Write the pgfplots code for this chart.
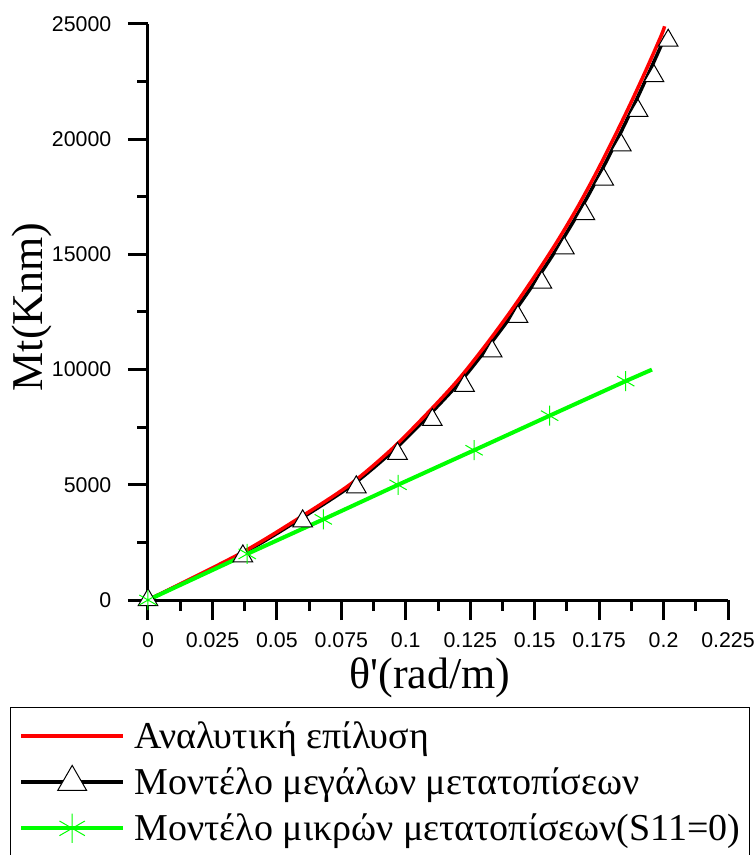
\documentclass[border=0pt]{standalone}
\usepackage{fontspec}
\setmainfont{Liberation Serif}
\newfontfamily\arialfont{Liberation Sans}
\usepackage{pgfplots}
\pgfplotsset{compat=1.18}
\definecolor{rred}{RGB}{255,0,0}
\definecolor{ggreen}{RGB}{0,255,0}

\begin{document}
\begin{tikzpicture}
\useasboundingbox (-111pt,-191.25pt) rectangle (455.25pt,450pt);
\begin{axis}[
  at={(0pt,0pt)}, anchor=south west,
  width=435pt, height=432pt, scale only axis,
  xmin=0, xmax=0.225, ymin=0, ymax=25000,
  axis x line=bottom, axis y line=left,
  axis line style={-, line width=2.25pt, black},
  every tick/.style={black, line width=2.25pt},
  tick align=outside,
  major tick length=15pt, minor tick length=8pt,
  xtick={0,0.025,0.05,0.075,0.1,0.125,0.15,0.175,0.2,0.225},
  ytick={0,5000,10000,15000,20000,25000},
  scaled y ticks=false, scaled x ticks=false,
  minor x tick num=1, minor y tick num=1,
  tick label style={font=\arialfont\fontsize{16}{19}\selectfont},
  /pgf/number format/assume math mode=true,
  /pgf/number format/1000 sep={},
  xticklabel style={/pgf/number format/fixed, /pgf/number format/precision=3, yshift=-6pt},
  yticklabel style={xshift=-9pt},
  xlabel={θ\textquotesingle(rad/m)},
  ylabel={Mt(Knm)},
  xlabel style={font=\fontsize{33}{40}\selectfont, at={(axis description cs:0.486,-0.153)}, anchor=base},
  ylabel style={font=\fontsize{33}{40}\selectfont, at={(axis description cs:-0.2,0.509)}, anchor=center},
  clip=false,
  legend image code/.code={
    \draw[#1, mark=none] (0pt,0pt) -- (76.5pt,0pt);
    \draw[#1] plot coordinates {(38.25pt,0pt)};
  },
  legend cell align=left,
  legend style={at={(axis description cs:-0.2379,-0.1858)}, anchor=north west,
    draw=black, line width=0.75pt, fill=white,
    inner xsep=6.5pt, inner ysep=5pt, row sep=2.3pt, column sep=7pt,
    font=\fontsize{28.5}{34}\selectfont,
    nodes={inner xsep=0pt, inner ysep=0pt, text height=25.6pt, text depth=6.8pt}},
]
% large-displacement model: line
\addplot[black, line width=2.6pt, smooth, forget plot] coordinates {
  (0,0) (0.0363,2000) (0.0588,3500) (0.0793,5000) (0.0953,6500)
  (0.1088,8000) (0.1213,9500) (0.1320,11000) (0.1420,12500)
  (0.1513,14000) (0.1600,15500) (0.1680,17000) (0.1753,18500)
  (0.1821,20000) (0.1886,21500) (0.1948,23000) (0.2008,24500)
};
% large-displacement model: markers
\addplot[only marks, mark=triangle*, mark size=8.5pt,
  mark options={fill=white, draw=black, line width=0.75pt, solid}, forget plot] coordinates {
  (0,0) (0.0368,1900) (0.0600,3420) (0.0808,4900) (0.0968,6350)
  (0.1103,7820) (0.1228,9300) (0.1335,10800) (0.1435,12300)
  (0.1528,13780) (0.1615,15270) (0.1695,16750) (0.1768,18250)
  (0.1836,19740) (0.1901,21240) (0.1963,22740) (0.2018,24280)
};
% analytical solution
\addplot[rred, line width=2.6pt, smooth, forget plot] coordinates {
  (0,0) (0.0355,2000) (0.0578,3500) (0.0782,5000) (0.0941,6500)
  (0.1075,8000) (0.1199,9500) (0.1306,11000) (0.1405,12500)
  (0.1497,14000) (0.1584,15500) (0.1664,17000) (0.1737,18500)
  (0.1805,20000) (0.1870,21500) (0.1932,23000) (0.1991,24500) (0.2004,24900)
};
% small-displacement model
\addplot[ggreen, line width=3pt, mark=asterisk, mark size=7.5pt,
  mark options={line width=0.75pt, solid}, mark indices={1,2,3,4,5,6,7}, forget plot] coordinates {
  (0,0) (0.0385,2000) (0.068,3500) (0.097,5000) (0.1265,6500)
  (0.1558,8000) (0.1853,9500) (0.1955,10000)
};
\addlegendimage{rred, line width=3pt}
\addlegendentry{Αναλυτική επίλυση}
\addlegendimage{black, line width=3pt, mark=triangle*, mark size=12.5pt,
  mark options={fill=white, draw=black, line width=0.75pt, solid}}
\addlegendentry{Μοντέλο μεγάλων μετατοπίσεων}
\addlegendimage{ggreen, line width=3pt, mark=asterisk, mark size=11pt,
  mark options={line width=0.75pt, solid}}
\addlegendentry{Μοντέλο μικρών μετατοπίσεων(S11=0)}
\end{axis}
\end{tikzpicture}
\end{document}
